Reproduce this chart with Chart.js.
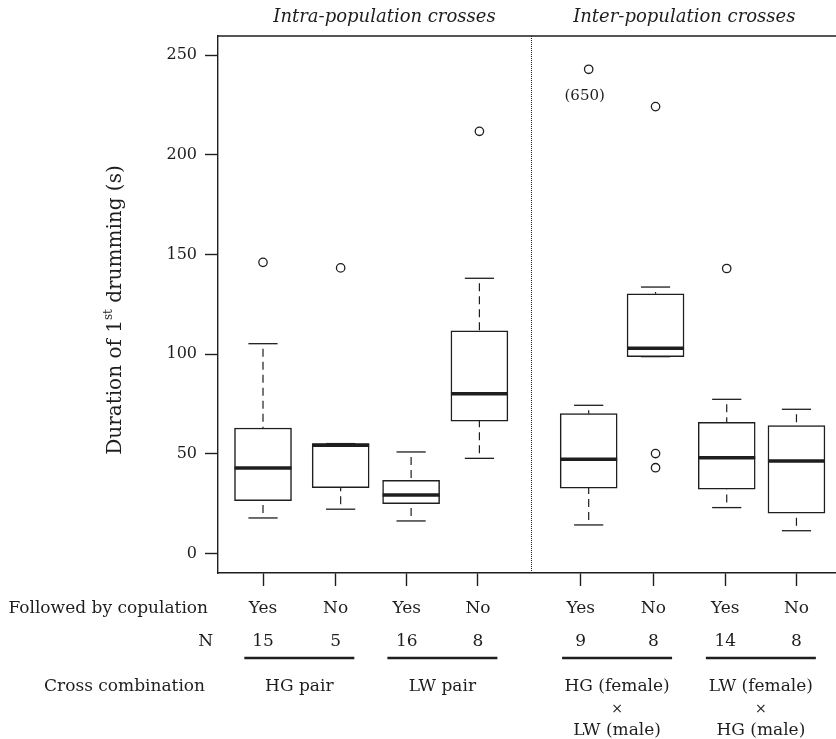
<!DOCTYPE html>
<html>
<head>
<meta charset="utf-8">
<script src="https://cdn.jsdelivr.net/npm/chart.js@4.4.1/dist/chart.umd.min.js"></script>
<style>
    html, body { margin: 0; padding: 0; background: #fff; }
</style>
</head>
<body>
<canvas id="boxChart" width="836" height="739"></canvas>
<script>
// one entry per box, left to right
var copulation = ['Yes', 'No', 'Yes', 'No', 'Yes', 'No', 'Yes', 'No'];
var sampleN = [15, 5, 16, 8, 9, 8, 14, 8];
var whiskerLow = [17.9, 22.3, 16.4, 47.8, 14.4, 98.8, 23.1, 11.5];
var q1 = [26.6, 33.1, 25.1, 66.5, 32.9, 98.8, 32.3, 20.3];
var median = [43.0, 54.4, 29.4, 80.2, 47.3, 103.0, 48.1, 46.5];
var q3 = [63.0, 55.2, 36.8, 111.8, 70.2, 130.3, 65.9, 64.2];
var whiskerHigh = [105.3, 55.2, 51.0, 138.1, 74.4, 133.7, 77.4, 72.4];
var outliers = [[146.1], [143.3], [], [211.8], [242.9], [224.2, 50.2, 43.1], [143.0], []];
var outlierNote = ['', '', '', '', '(650)', '', '', ''];

// x positions (like R's "at"), ticks sit slightly apart from the boxes in the original
var boxAt = [1, 2.08, 3.06, 4.01, 5.53, 6.46, 7.45, 8.42];
var tickAt = [1, 2.01, 3, 3.99, 5.42, 6.43, 7.43, 8.42];
var yTicks = [0, 50, 100, 150, 200, 250];

// one entry per cross (pair of boxes)
var crossTop = ['HG pair', 'LW pair', 'HG (female)', 'LW (female)'];
var crossBottom = ['', '', 'LW (male)', 'HG (male)'];
var panelTitles = ['Intra-population crosses', 'Inter-population crosses'];
var panelAt = [2.69, 6.86];
var dividerAt = 4.73;

var ink = '#1e1e1e';
var serif = '"DejaVu Serif", "Liberation Serif", serif';

var boxData = [], medianData = [], capData = [], whiskerData = [], outlierData = [];
for (var i = 0; i < median.length; i++) {
    boxData.push({ x: boxAt[i], y: [q1[i], q3[i]] });
    medianData.push({ x: boxAt[i], y: median[i] });
    capData.push({ x: boxAt[i], y: whiskerLow[i] }, { x: boxAt[i], y: whiskerHigh[i] });
    // whiskers run from the cap to the box, with a break after each
    whiskerData.push({ x: boxAt[i], y: whiskerHigh[i] }, { x: boxAt[i], y: q3[i] }, { x: boxAt[i], y: null });
    whiskerData.push({ x: boxAt[i], y: whiskerLow[i] }, { x: boxAt[i], y: q1[i] }, { x: boxAt[i], y: null });
    outliers[i].forEach(function (v) { outlierData.push({ x: boxAt[i], y: v }); });
}

// text, frame and divider around the plot
var annotate = {
    id: 'annotate',
    afterDraw: function (chart) {
        var ctx = chart.ctx, xs = chart.scales.x, ys = chart.scales.y, area = chart.chartArea;
        ctx.save();
        ctx.strokeStyle = ink;
        ctx.fillStyle = ink;

        // top edge of the frame
        ctx.lineWidth = 1.4;
        ctx.beginPath();
        ctx.moveTo(area.left, area.top);
        ctx.lineTo(area.right, area.top);
        ctx.stroke();

        // dotted divider
        var dx = Math.round(xs.getPixelForValue(dividerAt)) + 0.5;
        ctx.lineWidth = 1;
        ctx.setLineDash([1, 1]);
        ctx.beginPath();
        ctx.moveTo(dx, area.top);
        ctx.lineTo(dx, area.bottom);
        ctx.stroke();
        ctx.setLineDash([]);

        // panel titles
        ctx.font = 'italic 18px ' + serif;
        ctx.textAlign = 'center';
        ctx.textBaseline = 'middle';
        panelTitles.forEach(function (t, k) {
            ctx.fillText(t, xs.getPixelForValue(panelAt[k]), 17);
        });

        // note under the clipped outlier
        ctx.font = '15px ' + serif;
        outlierNote.forEach(function (t, k) {
            if (!t) return;
            var top = Math.max.apply(null, outliers[k]);
            ctx.fillText(t, xs.getPixelForValue(boxAt[k]) - 4, ys.getPixelForValue(top) + 27);
        });

        // y title with superscript
        ctx.save();
        ctx.translate(116, 310);
        ctx.rotate(-Math.PI / 2);
        var big = '20px ' + serif, small = '12px ' + serif;
        var parts = [['Duration of 1', big, 0], ['st', small, -7], [' drumming (s)', big, 0]];
        var total = 0;
        parts.forEach(function (p) { ctx.font = p[1]; total += ctx.measureText(p[0]).width; });
        var pos = -total / 2;
        ctx.textAlign = 'left';
        parts.forEach(function (p) {
            ctx.font = p[1];
            ctx.fillText(p[0], pos, p[2]);
            pos += ctx.measureText(p[0]).width;
        });
        ctx.restore();

        // rows under the axis
        ctx.font = '17px ' + serif;
        ctx.textAlign = 'right';
        ctx.fillText('Followed by copulation', 208, 609);
        ctx.fillText('N', 213, 642);
        ctx.fillText('Cross combination', 205, 687);

        ctx.textAlign = 'center';
        for (var k = 0; k < copulation.length; k++) {
            var px = xs.getPixelForValue(tickAt[k]);
            ctx.fillText(copulation[k], px, 609);
            ctx.fillText(String(sampleN[k]), px, 642);
        }

        ctx.lineWidth = 2.4;
        for (var c = 0; c < crossTop.length; c++) {
            var mid = (tickAt[2 * c] + tickAt[2 * c + 1]) / 2;
            var cx = xs.getPixelForValue(mid);
            ctx.beginPath();
            ctx.moveTo(xs.getPixelForValue(mid - 0.765), 658);
            ctx.lineTo(xs.getPixelForValue(mid + 0.765), 658);
            ctx.stroke();
            ctx.font = '17px ' + serif;
            ctx.fillText(crossTop[c], cx, 687);
            if (crossBottom[c]) {
                ctx.fillText(crossBottom[c], cx, 731);
                ctx.font = '14px "DejaVu Sans", sans-serif';
                ctx.fillText('\u00d7', cx, 709);
            }
        }
        ctx.restore();
    }
};

var ctx = document.getElementById('boxChart');
var boxChart = new Chart(ctx, {
    type: 'bar',
    data: {
        datasets: [{
            type: 'line',
            data: outlierData,
            showLine: false,
            pointStyle: 'circle',
            pointRadius: 4.2,
            pointBorderWidth: 1.3,
            pointBorderColor: ink,
            pointBackgroundColor: '#fff',
            order: 0
        }, {
            type: 'line',
            data: medianData,
            showLine: false,
            pointStyle: 'line',
            pointRadius: 28.5,
            pointBorderWidth: 3.5,
            pointBorderColor: ink,
            order: 1
        }, {
            type: 'line',
            data: capData,
            showLine: false,
            pointStyle: 'line',
            pointRadius: 14.6,
            pointBorderWidth: 1.3,
            pointBorderColor: ink,
            order: 2
        }, {
            type: 'bar',
            data: boxData,
            backgroundColor: '#fff',
            borderColor: ink,
            borderWidth: 1.5,
            borderSkipped: false,
            barThickness: 57,
            order: 3
        }, {
            type: 'line',
            data: whiskerData,
            borderColor: ink,
            borderWidth: 1.2,
            borderDash: [8, 5],
            borderDashOffset: 8,
            pointRadius: 0,
            spanGaps: false,
            tension: 0,
            order: 4
        }]
    },
    options: {
        responsive: false,
        animation: false,
        events: [],
        layout: { autoPadding: false, padding: { top: 36, left: 0, right: 0, bottom: 0 } },
        plugins: { legend: { display: false }, tooltip: { enabled: false } },
        scales: {
            x: {
                type: 'linear',
                min: 0.374,
                max: 8.97,
                offset: false,
                afterBuildTicks: function (axis) { axis.ticks = tickAt.map(function (v) { return { value: v }; }); },
                afterFit: function (axis) { axis.height = 166; },
                grid: { drawOnChartArea: false, drawTicks: true, tickLength: 13, tickWidth: 1.4, tickColor: ink, offset: false },
                border: { display: true, color: ink, width: 1.4 },
                ticks: { display: false }
            },
            y: {
                type: 'linear',
                min: -9.7,
                max: 259.6,
                afterBuildTicks: function (axis) { axis.ticks = yTicks.map(function (v) { return { value: v }; }); },
                afterFit: function (axis) { axis.width = 218; },
                grid: { drawOnChartArea: false, tickLength: 13, tickWidth: 1.4, tickColor: ink },
                border: { display: true, color: ink, width: 1.4 },
                ticks: { color: ink, font: { family: serif, size: 16 }, padding: 8 }
            }
        }
    },
    plugins: [annotate]
});
</script>
</body>
</html>
